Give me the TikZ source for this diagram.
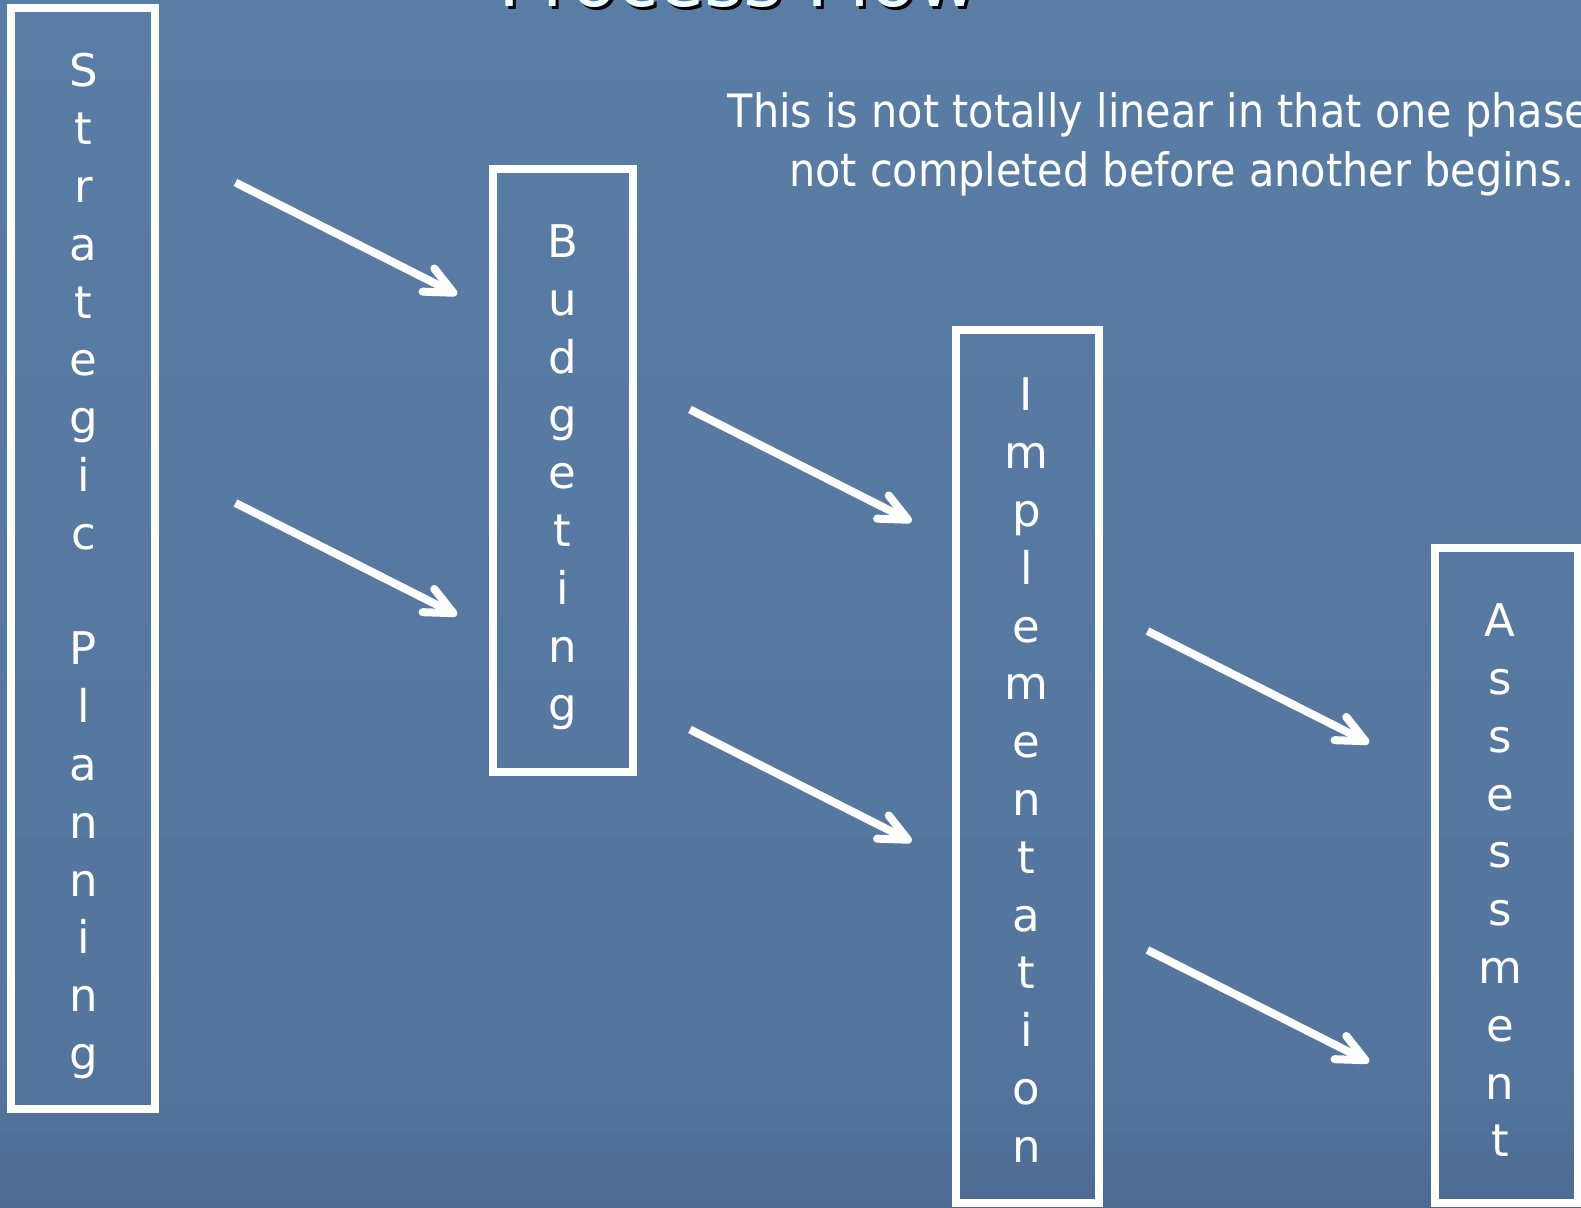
\documentclass[tikz,border=0pt]{standalone}
\usepackage{fontspec}
\setmainfont{DejaVu Sans}
\newfontfamily\descfont[FakeStretch=0.9]{DejaVu Sans}
\usetikzlibrary{arrows.meta}
\definecolor{bgtop}{RGB}{90,125,165}
\definecolor{bgmid}{RGB}{84,118,158}
\definecolor{bgbot}{RGB}{75,107,146}
\definecolor{titlecol}{RGB}{238,255,255}
\begin{document}
\begin{tikzpicture}[x=0.5pt,y=-0.5pt,
  phase/.style={draw=white, line width=4pt, inner sep=0pt, outer sep=0pt, anchor=north west},
  letters/.style={text=white, align=center, inner sep=0pt, anchor=north,
    font=\fontsize{22.5}{28.9}\selectfont},
  flow/.style={draw=white, line width=4pt,
    -{Straight Barb[length=14pt,width=13pt,round]}}
]
\useasboundingbox (0,0) rectangle (1581,1207);
\clip (0,0) rectangle (1581,1207);
\shade[top color=bgtop, bottom color=bgmid] (0,0) rectangle (1581,1060);
\shade[top color=bgmid, bottom color=bgbot] (0,1060) rectangle (1581,1207);

% title (cut off at the top)
\node[anchor=base west, inner sep=0pt, text=black, font=\fontsize{37.5}{40}\selectfont]
  (titleshadow) at (501,9.5) {Process Flow};
\node[anchor=base west, inner sep=0pt, text=titlecol, font=\fontsize{37.5}{40}\selectfont]
  (title) at (498,6.5) {Process Flow};

% description
\node[text=white, align=center, inner sep=0pt, anchor=north,
  font=\descfont\fontsize{23}{29.5}\selectfont] (desc) at (1182,92)
  {This is not totally linear in that one phase is\\not completed before another begins.};

% phase boxes
\node[phase, minimum width=71.75pt, minimum height=550.75pt] (sp) at (11,7.5) {};
\node[phase, minimum width=70pt, minimum height=301.5pt] (bu) at (493,169) {};
\node[phase, minimum width=71.75pt, minimum height=436.5pt] (im) at (955.5,330) {};
\node[phase, minimum width=71.5pt, minimum height=327.5pt] (as) at (1435,548) {};

% vertical labels
\node[letters] (sptext) at (83.5,53)
  {S\\t\\r\\a\\t\\e\\g\\i\\c\\~\\P\\l\\a\\n\\n\\i\\n\\g};
\node[letters] (butext) at (562.6,224.4) {B\\u\\d\\g\\e\\t\\i\\n\\g};
\node[letters] (imtext) at (1026.4,377.7)
  {I\\m\\p\\l\\e\\m\\e\\n\\t\\a\\t\\i\\o\\n};
\node[letters] (astext) at (1500,603.5) {A\\s\\s\\e\\s\\s\\m\\e\\n\\t};

% arrows
\coordinate (s1) at (235.5,182.5);  \coordinate (e1) at (457,294.5);
\coordinate (s2) at (235.5,503);    \coordinate (e2) at (457,615);
\coordinate (s3) at (690,409.5);    \coordinate (e3) at (911.5,521.5);
\coordinate (s4) at (690,729.5);    \coordinate (e4) at (911.5,841.5);
\coordinate (s5) at (1147.5,631);   \coordinate (e5) at (1369,743);
\coordinate (s6) at (1147.5,950);   \coordinate (e6) at (1369,1062);
\foreach \i in {1,...,6} \draw[flow] (s\i) -- (e\i);
\end{tikzpicture}
\end{document}
